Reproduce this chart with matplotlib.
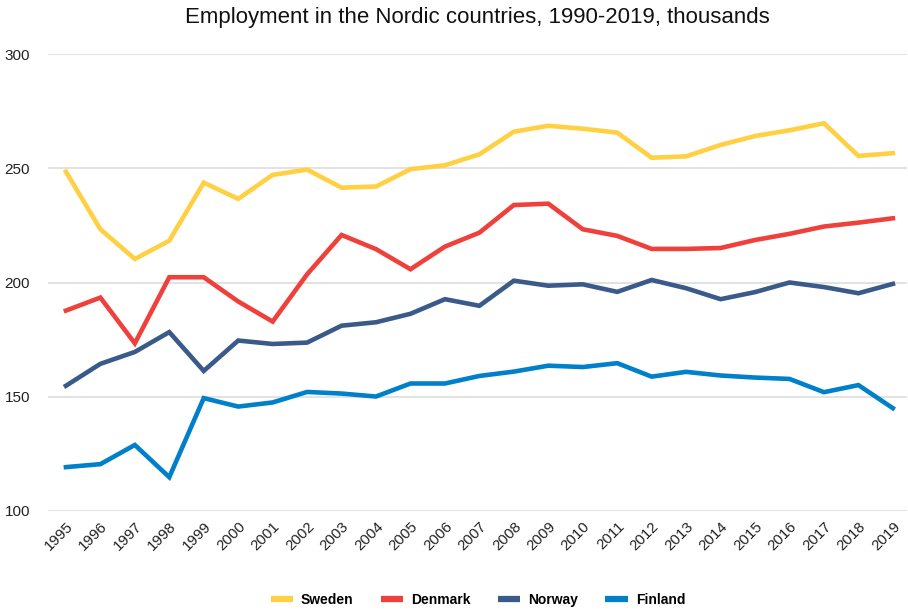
import matplotlib
matplotlib.use("Agg")
import matplotlib.pyplot as plt

years = [str(y) for y in range(1995, 2020)]
sweden = [248.5, 223.3, 210.3, 218.3, 243.7, 236.6, 247.1, 249.4, 241.5, 242.0, 249.6, 251.3,
          256.1, 266.0, 268.6, 267.3, 265.6, 254.6, 255.2, 260.2, 264.1, 266.6, 269.7, 255.4, 256.6]
denmark = [187.7, 193.4, 173.4, 202.3, 202.3, 191.7, 182.9, 203.6, 220.8, 214.6, 205.8, 215.7,
           221.8, 233.9, 234.5, 223.3, 220.4, 214.7, 214.7, 215.1, 218.6, 221.3, 224.5, 226.2, 228.1]
norway = [154.8, 164.4, 169.6, 178.3, 161.3, 174.6, 173.1, 173.7, 181.1, 182.6, 186.3, 192.7,
          189.8, 200.8, 198.6, 199.2, 195.9, 201.1, 197.5, 192.7, 195.8, 200.0, 198.0, 195.3, 199.4]
finland = [119.2, 120.5, 128.9, 114.8, 149.4, 145.7, 147.5, 152.1, 151.4, 150.1, 155.8, 155.8,
           159.1, 161.0, 163.6, 163.0, 164.7, 158.8, 160.9, 159.3, 158.4, 157.8, 152.0, 155.1, 145.0]
series_names = ["Sweden", "Denmark", "Norway", "Finland"]
colors = ["#FFD042", "#F0403C", "#3A5A8A", "#0080CA"]
yticks = [100, 150, 200, 250, 300]

plt.rcParams['font.family'] = ['Liberation Sans', 'DejaVu Sans']

fig = plt.figure(figsize=(9.08, 6.11), dpi=100)
ax = fig.add_axes([48/908, 1-511/611, (907-48)/908, (511-54)/611])

x = list(range(len(years)))
for name, vals, c in zip(series_names, [sweden, denmark, norway, finland], colors):
    ax.plot(x, vals, color=c, lw=3.3, label=name, solid_joinstyle='miter')

ax.set_xlim(-0.52, len(years) - 1 + 0.41)
ax.set_ylim(100, 300)
ax.set_yticks(yticks)
ax.set_yticklabels([str(t) for t in yticks], fontsize=11, color="#222222")
ax.set_xticks(x)
ax.set_xticklabels(years, rotation=45, fontsize=10.8, color="#222222", ha='right', rotation_mode='anchor')
ax.tick_params(axis='both', length=0)
ax.tick_params(axis='y', pad=13)
ax.tick_params(axis='x', pad=6)
ax.grid(axis='y', color="#DDDDDD", lw=1.2)
ax.set_axisbelow(True)
for s in ax.spines.values():
    s.set_visible(False)

fig.text(477/908, 1-17/611, "Employment in the Nordic countries, 1990-2019, thousands",
         ha='center', va='center', fontsize=16, color="#111111")

leg = fig.legend(loc='center', bbox_to_anchor=(478/908, 1-600/611), ncol=4, frameon=False,
                 prop={'weight': 'bold', 'size': 10}, handlelength=1.6, handletextpad=0.6,
                 columnspacing=1.95)
for h in leg.legend_handles:
    h.set_linewidth(4.5)
    h.set_solid_capstyle('butt')

fig.savefig("out.png", dpi=100)
